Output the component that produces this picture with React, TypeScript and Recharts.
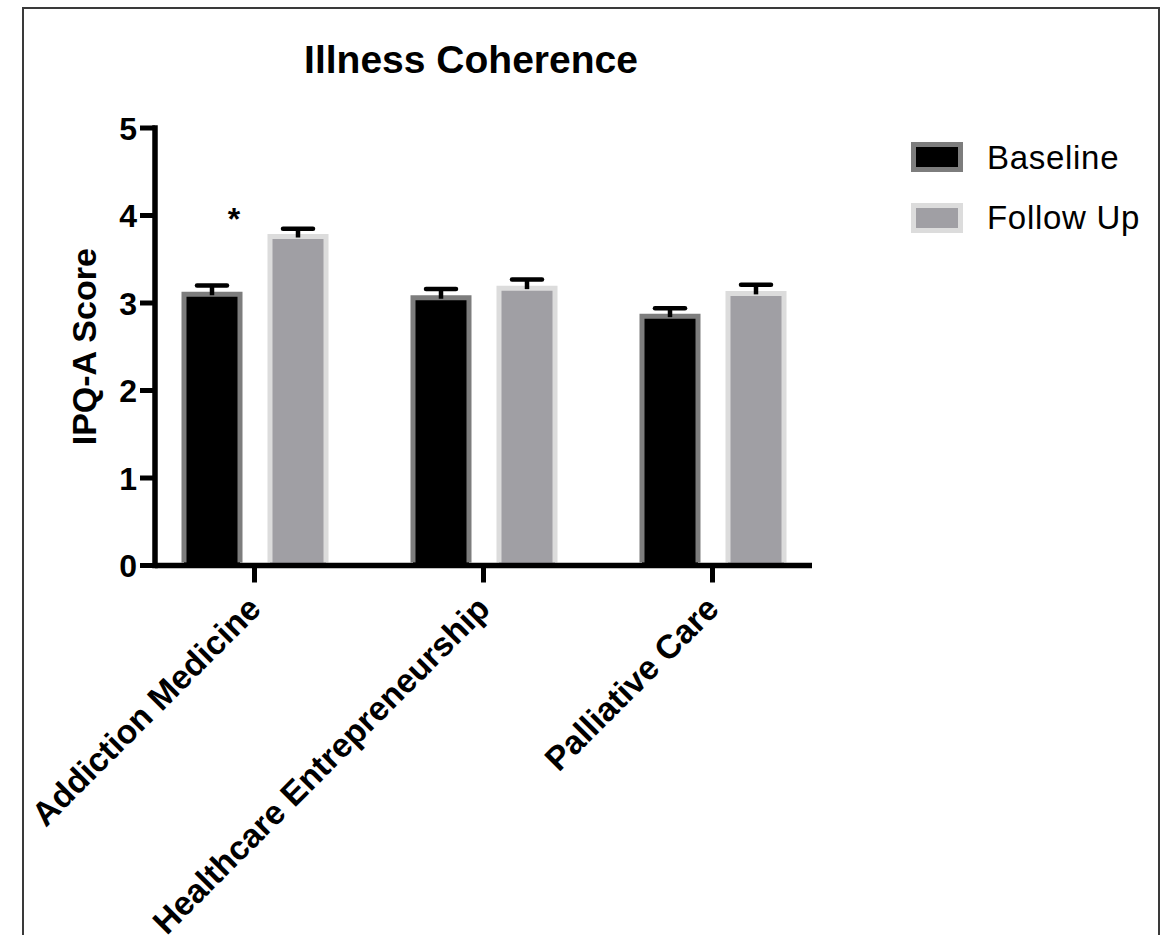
import React from 'react';
import { BarChart, Bar, XAxis, YAxis, LabelList, Label, Legend } from 'recharts';

const categories = ['Addiction Medicine', 'Healthcare Entrepreneurship', 'Palliative Care'];
const baseline = [3.1, 3.06, 2.85];
const followUp = [3.76, 3.17, 3.11];
const baselineErr = [0.1, 0.1, 0.09];
const followUpErr = [0.09, 0.1, 0.1];
const significance = ['*', '', ''];
const yTicks = [0, 1, 2, 3, 4, 5];

const data = categories.map((c, i) => ({
  category: c,
  baseline: baseline[i],
  followUp: followUp[i],
  baselineErr: baselineErr[i],
  followUpErr: followUpErr[i],
  sig: significance[i],
}));

const FONT = '"Liberation Sans", Arial, Helvetica, sans-serif';

const seriesStyle: Record<string, { name: string; fill: string; stroke: string }> = {
  baseline: { name: 'Baseline', fill: '#000000', stroke: '#7d7d7d' },
  followUp: { name: 'Follow Up', fill: '#a09fa4', stroke: '#dcdcdc' },
};

const makeShape = (key: string, errKey: string) => (props: any) => {
  const { x, y, width, height, payload } = props;
  const st = seriesStyle[key];
  const v = payload[key];
  const ppu = v ? height / v : 0;
  const errTop = y - payload[errKey] * ppu;
  const cx = x + width / 2;
  return (
    <g>
      <rect x={x} y={y} width={width} height={height} fill={st.fill} />
      <path
        d={`M${x},${y + height - 3} L${x},${y} L${x + width},${y} L${x + width},${y + height - 3}`}
        fill="none"
        stroke={st.stroke}
        strokeWidth={5}
      />
      <line x1={cx} x2={cx} y1={y + 1} y2={errTop} stroke="#000" strokeWidth={4.5} />
      <line x1={cx - 15} x2={cx + 15} y1={errTop} y2={errTop} stroke="#000" strokeWidth={4.5} strokeLinecap="round" />
    </g>
  );
};

const renderSig = (p: any) => {
  const { x, y, width, height, value, index } = p;
  if (!value) return null;
  const ppu = height / baseline[index];
  const errTop = y - baselineErr[index] * ppu;
  return (
    <text x={x + width / 2 + 22} y={errTop - 56} textAnchor="middle" fontSize={32} fontWeight="bold" fontFamily={FONT} fill="#000">
      {value}
    </text>
  );
};

const XTick = (props: any) => {
  const { x, y, payload } = props;
  const ax = x;
  const ay = y + 18;
  return (
    <text
      x={ax}
      y={ay}
      transform={`rotate(-45 ${ax} ${ay})`}
      textAnchor="end"
      dy="0.35em"
      fontSize={33.5}
      fontWeight="bold"
      fontFamily={FONT}
      fill="#000"
    >
      {payload.value}
    </text>
  );
};

const YTick = (props: any) => {
  const { x, y, payload } = props;
  return (
    <text x={x} y={y} textAnchor="end" dy="0.36em" fontSize={32} fontWeight="bold" fontFamily={FONT} fill="#000">
      {payload.value}
    </text>
  );
};

const LegendContent = (props: any) => {
  const keys = ['baseline', 'followUp'];
  return (
    <div style={{ fontFamily: FONT }}>
      {keys.map((k) => (
        <div key={k} style={{ display: 'flex', alignItems: 'center', height: 60.5 }}>
          <div
            style={{
              width: 42,
              height: 20,
              background: seriesStyle[k].fill,
              border: `5px solid ${seriesStyle[k].stroke}`,
              marginRight: 24,
            }}
          />
          <span style={{ fontSize: 33, letterSpacing: 0.7, lineHeight: '33px', color: '#000' }}>{seriesStyle[k].name}</span>
        </div>
      ))}
    </div>
  );
};

export default function App() {
  return (
    <div style={{ position: 'absolute', left: 0, top: 0, width: 1165, height: 935, overflow: 'hidden', background: '#fff' }}>
      <div
        style={{
          position: 'absolute',
          left: 22,
          top: 7,
          width: 1134,
          height: 1000,
          border: '2px solid #3a3a3a',
        }}
      />
      <div
        style={{
          position: 'absolute',
          left: 0,
          top: 40,
          width: 942,
          textAlign: 'center',
          fontFamily: FONT,
          fontWeight: 'bold',
          fontSize: 39,
          lineHeight: '39px',
          color: '#000',
        }}
      >
        Illness Coherence
      </div>
      <div style={{ position: 'absolute', left: 0, top: 0 }}>
        <BarChart
          width={1165}
          height={935}
          data={data}
          margin={{ top: 128, right: 353, bottom: 69.5, left: 0 }}
          barSize={56}
          barGap={30}
        >
          <XAxis
            dataKey="category"
            height={300}
            interval={0}
            tick={<XTick />}
            tickSize={17}
            tickLine={{ stroke: '#000', strokeWidth: 5 }}
            axisLine={{ stroke: '#000', strokeWidth: 5.5 }}
            padding={{ left: -15, right: -15 }}
          />
          <YAxis
            type="number"
            domain={[0, 5]}
            ticks={yTicks}
            width={155}
            tick={<YTick />}
            tickSize={15}
            tickMargin={3}
            tickLine={{ stroke: '#000', strokeWidth: 5 }}
            axisLine={{ stroke: '#000', strokeWidth: 5.5, strokeLinecap: 'square' }}
          >
            <Label
              content={(p: any) => {
                const vb = p.viewBox;
                const cy = vb.y + vb.height / 2;
                return (
                  <text
                    x={96}
                    y={cy}
                    transform={`rotate(-90 96 ${cy})`}
                    textAnchor="middle"
                    fontSize={34}
                    fontWeight="bold"
                    fontFamily={FONT}
                    fill="#000"
                  >
                    IPQ-A Score
                  </text>
                );
              }}
            />
          </YAxis>
          <Legend
            layout="vertical"
            align="center"
            verticalAlign="middle"
            content={<LegendContent />}
            wrapperStyle={{ left: 911, top: 127, width: 250, right: 'auto', bottom: 'auto' }}
          />
          <Bar dataKey="baseline" name="Baseline" fill="#000" isAnimationActive={false} shape={makeShape('baseline', 'baselineErr')}>
            <LabelList dataKey="sig" content={renderSig} />
          </Bar>
          <Bar dataKey="followUp" name="Follow Up" fill="#a09fa4" isAnimationActive={false} shape={makeShape('followUp', 'followUpErr')} />
        </BarChart>
      </div>
    </div>
  );
}
